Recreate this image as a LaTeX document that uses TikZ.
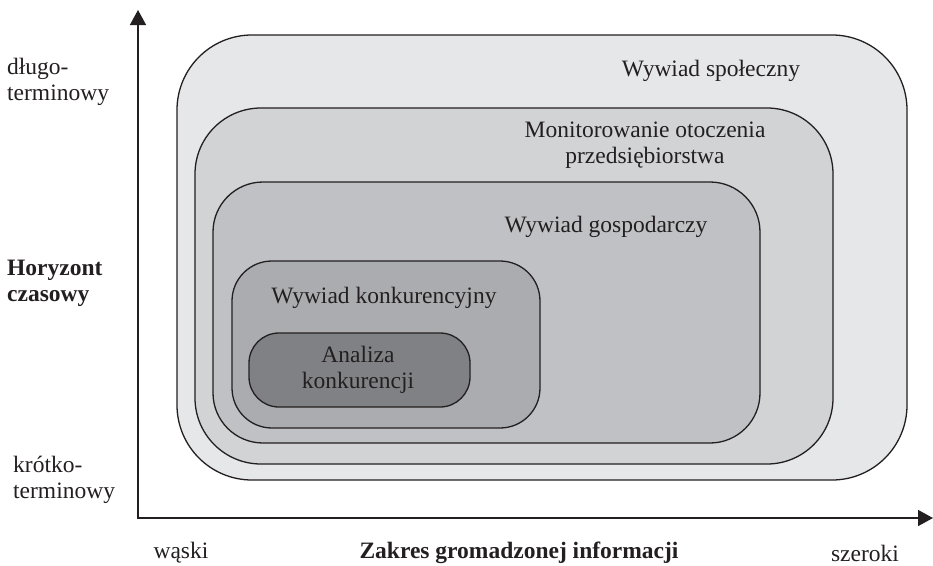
\documentclass[tikz,border=0pt]{standalone}
\usepackage{fontspec}
\setmainfont{Liberation Serif}
\usetikzlibrary{arrows.meta}

\definecolor{szary1}{HTML}{E6E7E9}
\definecolor{szary2}{HTML}{D2D3D5}
\definecolor{szary3}{HTML}{C0C1C4}
\definecolor{szary4}{HTML}{ABACAF}
\definecolor{szary5}{HTML}{808184}
\definecolor{tusz}{HTML}{231F20}

\tikzset{
  pole/.style={draw=tusz,line width=1.3pt},
  opis/.style={text=tusz,align=center,inner sep=0pt,font=\fontsize{23.5}{26}\selectfont},
  opisL/.style={opis,align=left,anchor=west},
  os/.style={draw=tusz,line width=1.6pt,{Triangle[length=15pt,width=16pt]}-{Triangle[length=15pt,width=16pt]}}
}

\begin{document}
\begin{tikzpicture}[x=1pt,y=-1pt]
\useasboundingbox (0,0) rectangle (933,565);

% obszary
\draw[pole,fill=szary1,rounded corners=75pt] (177,35) rectangle (907,480);
\draw[pole,fill=szary2,rounded corners=66pt] (195,108) rectangle (833,464);
\draw[pole,fill=szary3,rounded corners=50pt] (213,182) rectangle (760,443);
\draw[pole,fill=szary4,rounded corners=40pt] (232,261) rectangle (540,428);
\draw[pole,fill=szary5,rounded corners=30pt] (249,333) rectangle (470,407);

\node[opis] (spoleczny) at (711,71) {Wywiad społeczny};
\node[opis] (otoczenie) at (645,145) {Monitorowanie otoczenia\\przedsiębiorstwa};
\node[opis] (gospodarczy) at (606,227) {Wywiad gospodarczy};
\node[opis] (konkurencyjny) at (384,298) {Wywiad konkurencyjny};
\node[opis] (analiza) at (358,370) {Analiza\\konkurencji};

% osie
\coordinate (gora) at (138,10);
\coordinate (zero) at (138,518);
\coordinate (prawo) at (933,518);
\draw[os] (gora) -- (zero) -- (prawo);

\node[opisL] (dlugo) at (7,82) {długo-\\terminowy};
\node[opisL,font=\fontsize{23.5}{26}\selectfont\bfseries] (horyzont) at (7,283) {Horyzont\\czasowy};
\node[opisL] (krotko) at (13,480) {krótko-\\terminowy};

\node[opis] (waski) at (181,553) {wąski};
\node[opis,font=\fontsize{23.5}{26}\selectfont\bfseries] (zakres) at (519,553) {Zakres gromadzonej informacji};
\node[opis] (szeroki) at (865,553) {szeroki};

\end{tikzpicture}
\end{document}
